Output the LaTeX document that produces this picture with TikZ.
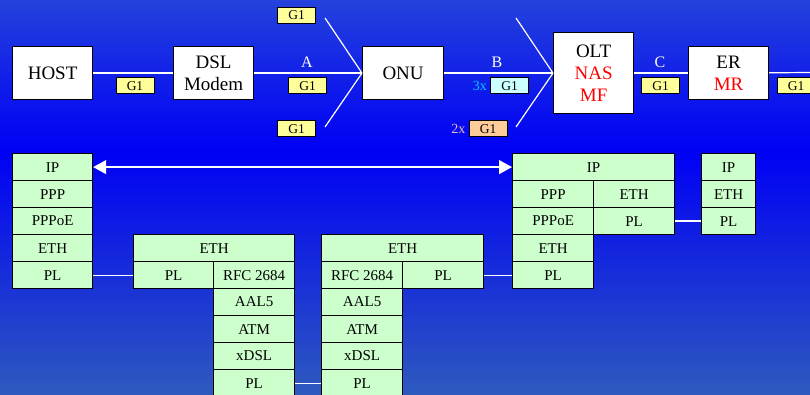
\documentclass[tikz,border=0pt]{standalone}
\usepackage{fontspec}
\setmainfont{Liberation Serif}
\usetikzlibrary{arrows.meta,positioning}

\definecolor{skytop}{RGB}{36,66,220}
\definecolor{skymid}{RGB}{0,0,245}
\definecolor{skylow}{RGB}{46,90,190}
\definecolor{cellgreen}{RGB}{204,255,204}
\definecolor{tagyellow}{RGB}{255,255,153}
\definecolor{tagcyan}{RGB}{204,255,255}
\definecolor{tagsalmon}{RGB}{255,204,153}
\definecolor{multcyan}{RGB}{0,204,255}
\definecolor{multpink}{RGB}{235,185,195}

\begin{document}
\begin{tikzpicture}[
    x=1pt,y=-1pt,
    dev/.style={draw,fill=white,line width=1.2pt,align=center,anchor=north west,
                inner sep=0pt,minimum width=80pt,minimum height=53pt,
                font=\fontsize{19}{22}\selectfont},
    tag/.style={draw,line width=1pt,fill=tagyellow,inner sep=0pt,
                minimum width=38pt,minimum height=16pt,
                font=\fontsize{13.5}{15}\selectfont},
    cell/.style={draw,fill=cellgreen,line width=1.2pt,anchor=north west,
                 inner sep=0pt,minimum height=27pt,minimum width=#1,
                 font=\fontsize{15}{17}\selectfont},
    cell/.default=81pt,
    link/.style={draw=white,line width=1.2pt},
    lbl/.style={text=white,font=\fontsize{16}{18}\selectfont},
    mult/.style={inner sep=0pt,font=\fontsize{14}{16}\selectfont}
  ]
  \useasboundingbox (0,0) rectangle (810,395);
  \shade[top color=skytop,bottom color=skymid] (0,0) rectangle (810,150);
  \shade[top color=skymid,bottom color=skylow] (0,150) rectangle (810,395);

  % devices along the access chain
  \node[dev] (host) at (12,46) {HOST};
  \node[dev] (dsl) at (173,46) {DSL\\Modem};
  \node[dev,minimum width=81pt] (onu) at (362,46) {ONU};
  \node[dev,minimum height=81pt] (olt) at (553,32)
        {OLT\\\textcolor{red}{NAS}\\\textcolor{red}{MF}};
  \node[dev] (er) at (688,46) {ER\\\textcolor{red}{MR}};

  \coordinate (onuA) at (325,18);
  \coordinate (onuB) at (325,127);
  \coordinate (oltA) at (516,18);
  \coordinate (oltB) at (516,127);
  \coordinate (edge) at (810,72.5);

  \draw[link] (host) -- (dsl);
  \draw[link] (dsl) -- (onu);
  \draw[link] (onu) -- (olt);
  \draw[link] (olt) -- (er);
  \draw[link] (er) -- (edge);
  \draw[link] (onuA) -- (onu.west);
  \draw[link] (onuB) -- (onu.west);
  \draw[link] (oltA) -- (olt.west);
  \draw[link] (oltB) -- (olt.west);

  % interface names
  \node[lbl] (ifA) at (307,62) {A};
  \node[lbl] (ifB) at (497,62) {B};
  \node[lbl] (ifC) at (660,62) {C};

  % G1 tags
  \node[tag] (g1) at (135,86) {G1};
  \node[tag] (g2) at (307.5,86) {G1};
  \node[tag] (g3) at (296.5,15.5) {G1};
  \node[tag] (g4) at (296.5,129) {G1};
  \node[tag,fill=tagcyan] (g5) at (509.5,86) {G1};
  \node[tag,fill=tagsalmon] (g6) at (488,129) {G1};
  \node[tag] (g7) at (660.5,86) {G1};
  \node[tag] (g8) at (796,86) {G1};
  \node[mult,text=multcyan,left=3pt of g5] (n3) {3x};
  \node[mult,text=multpink,left=3pt of g6] (n2) {2x};

  % host stack
  \node[cell=80pt] (hIP) at (12,153) {IP};
  \node[cell=80pt] (hPPP) at (12,180) {PPP};
  \node[cell=80pt] (hPPPoE) at (12,207) {PPPoE};
  \node[cell=80pt] (hETH) at (12,234) {ETH};
  \node[cell=80pt] (hPL) at (12,261) {PL};

  % modem stack
  \node[cell=161pt] (mETH) at (133,234) {ETH};
  \node[cell=80pt] (mPL) at (133,261) {PL};
  \node[cell] (mRFC) at (213,261) {RFC 2684};
  \node[cell] (mAAL) at (213,288) {AAL5};
  \node[cell] (mATM) at (213,315) {ATM};
  \node[cell] (mDSL) at (213,342) {xDSL};
  \node[cell] (mPHY) at (213,369) {PL};

  % onu stack
  \node[cell=162pt] (uETH) at (321,234) {ETH};
  \node[cell] (uRFC) at (321,261) {RFC 2684};
  \node[cell] (uPL) at (402,261) {PL};
  \node[cell] (uAAL) at (321,288) {AAL5};
  \node[cell] (uATM) at (321,315) {ATM};
  \node[cell] (uDSL) at (321,342) {xDSL};
  \node[cell] (uPHY) at (321,369) {PL};

  % olt stack
  \node[cell=162pt] (oIP) at (512,153) {IP};
  \node[cell] (oPPP) at (512,180) {PPP};
  \node[cell] (oETHr) at (593,180) {ETH};
  \node[cell] (oPPPoE) at (512,207) {PPPoE};
  \node[cell] (oPLr) at (593,207) {PL};
  \node[cell] (oETH) at (512,234) {ETH};
  \node[cell] (oPL) at (512,261) {PL};

  % edge router stack
  \node[cell=54pt] (eIP) at (701,153) {IP};
  \node[cell=54pt] (eETH) at (701,180) {ETH};
  \node[cell=54pt] (ePL) at (701,207) {PL};

  \draw[link] (hPL) -- (mPL);
  \draw[link] (mPHY) -- (uPHY);
  \draw[link] (uPL) -- (oPL);
  \draw[link] (oPLr) -- (ePL);
  \draw[link,{Triangle[length=13pt,width=14pt]}-{Triangle[length=13pt,width=14pt]}]
        (hIP) -- (oIP);
\end{tikzpicture}
\end{document}
